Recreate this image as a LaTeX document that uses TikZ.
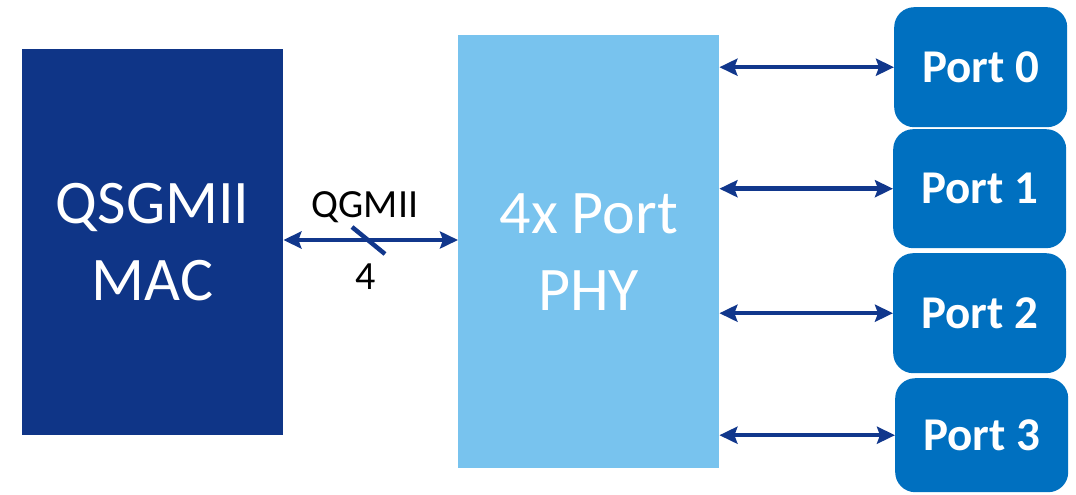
\documentclass[tikz,border=0pt]{standalone}
\usepackage{fontspec}
\setmainfont{Carlito}
\usetikzlibrary{arrows.meta}
\definecolor{macblue}{HTML}{0F3587}
\definecolor{phyblue}{HTML}{78C3EE}
\definecolor{portblue}{HTML}{0070C0}
\definecolor{linkblue}{HTML}{11378C}
\begin{document}
\begin{tikzpicture}[x=1pt,y=-1pt,
  bigtext/.style={text=white,align=center,font=\fontsize{62}{77}\selectfont},
  macbox/.style={fill=macblue,draw=none,anchor=north west,minimum width=261pt,minimum height=386pt,inner sep=0pt,bigtext},
  phybox/.style={fill=phyblue,draw=none,anchor=north west,minimum width=261pt,minimum height=433pt,inner sep=0pt,bigtext},
  portbox/.style={fill=portblue,draw=none,rounded corners=20pt,anchor=north west,minimum width=173pt,inner sep=0pt,text=white,font=\bfseries\fontsize{47}{56}\selectfont},
  link/.style={draw=linkblue,line width=4.5pt,{Stealth[length=18pt,width=17pt,inset=3pt]}-{Stealth[length=18pt,width=17pt,inset=3pt]}},
  lbl/.style={text=black,font=\fontsize{40}{48}\selectfont,inner sep=0pt}
]
\useasboundingbox (0,0) rectangle (1076,495);
\node[macbox] (mac) at (22,49) {QSGMII\\MAC};
\node[phybox] (phy) at (458,35) {4x Port\\PHY};
\node[portbox,minimum height=120pt] (p0) at (894,7) {Port 0};
\node[portbox,minimum height=119pt] (p1) at (893,129) {Port 1};
\node[portbox,minimum height=120pt] (p2) at (893,253) {Port 2};
\node[portbox,minimum height=114pt] (p3) at (895,378) {Port 3};
\coordinate (q) at (0,240);
\draw[link] (mac.east |- q) -- (phy.west |- q);
\coordinate (s1) at (352,227);
\coordinate (s2) at (385,254);
\draw[draw=linkblue,line width=4.5pt] (s1) -- (s2);
\node[lbl] (qg) at (365,207) {QGMII};
\node[lbl] (four) at (366,277) {4};
\draw[link] (phy.east |- p0.west) -- (p0.west);
\draw[link] (phy.east |- p1.west) -- (p1.west);
\draw[link] (phy.east |- p2.west) -- (p2.west);
\draw[link] (phy.east |- p3.west) -- (p3.west);
\end{tikzpicture}
\end{document}
